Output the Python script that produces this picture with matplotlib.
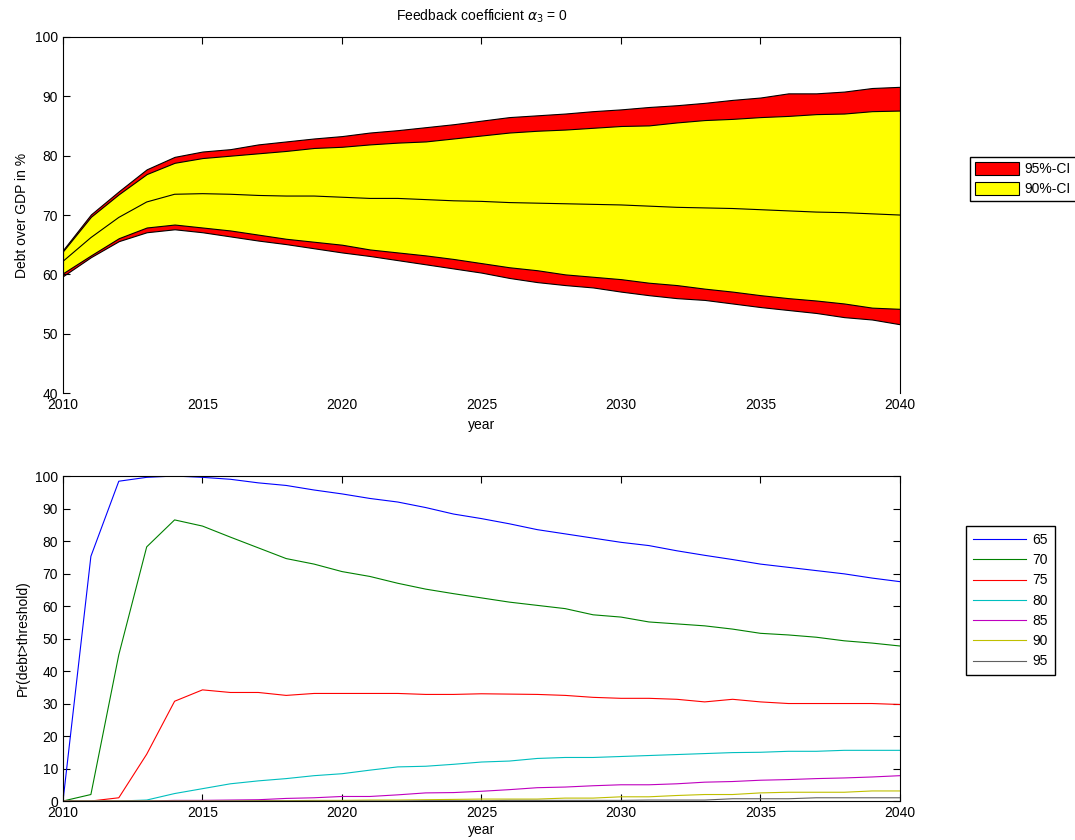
import numpy as np
import matplotlib.pyplot as plt
from matplotlib.patches import Patch

plt.rcParams["font.family"] = ["Liberation Sans", "DejaVu Sans"]
plt.rcParams["font.size"] = 10

years = np.arange(2010, 2041)

# Fan chart bands (debt over GDP in %)
upper95 = [64.1, 70.1, 74.0, 77.7, 79.8, 80.7, 81.1, 81.9, 82.4, 82.9,
           83.3, 83.9, 84.3, 84.8, 85.3, 85.9, 86.5, 86.8, 87.1, 87.5,
           87.8, 88.2, 88.5, 88.9, 89.4, 89.8, 90.5, 90.5, 90.8, 91.4, 91.6]
upper90 = [63.9, 69.7, 73.5, 76.9, 78.8, 79.6, 80.0, 80.4, 80.8, 81.3,
           81.5, 81.9, 82.2, 82.4, 82.9, 83.4, 83.9, 84.2, 84.4, 84.7,
           85.0, 85.1, 85.6, 86.0, 86.2, 86.5, 86.7, 87.0, 87.1, 87.5, 87.6]
median = [62.2, 66.2, 69.6, 72.2, 73.5, 73.6, 73.5, 73.3, 73.2, 73.2,
          73.0, 72.8, 72.8, 72.6, 72.4, 72.3, 72.1, 72.0, 71.9, 71.8,
          71.7, 71.5, 71.3, 71.2, 71.1, 70.9, 70.7, 70.5, 70.4, 70.2, 70.0]
lower90 = [60.2, 63.2, 66.1, 67.9, 68.4, 67.9, 67.4, 66.7, 66.0, 65.5,
           65.0, 64.2, 63.7, 63.2, 62.6, 61.9, 61.2, 60.7, 60.0, 59.6,
           59.2, 58.6, 58.2, 57.6, 57.1, 56.5, 56.0, 55.6, 55.1, 54.4, 54.2]
lower95 = [59.7, 62.9, 65.6, 67.1, 67.6, 67.1, 66.4, 65.7, 65.1, 64.4,
           63.7, 63.1, 62.4, 61.7, 61.0, 60.3, 59.4, 58.7, 58.2, 57.8,
           57.1, 56.5, 56.0, 55.7, 55.1, 54.5, 54.0, 53.5, 52.8, 52.4, 51.6]

# Probability that debt exceeds a threshold (in %)
thresholds = ["65", "70", "75", "80", "85", "90", "95"]
prob65 = [0.0, 75.3, 98.4, 99.6, 100.0, 99.6, 99.0, 97.9, 97.1, 95.7,
          94.5, 93.1, 92.0, 90.3, 88.3, 86.9, 85.3, 83.5, 82.2, 80.9,
          79.6, 78.6, 77.0, 75.6, 74.3, 72.9, 71.9, 70.9, 69.9, 68.6, 67.5]
prob70 = [0.0, 2.0, 45.0, 78.2, 86.5, 84.6, 81.2, 77.9, 74.6, 72.9,
          70.6, 69.1, 67.0, 65.2, 63.8, 62.5, 61.2, 60.2, 59.2, 57.3,
          56.6, 55.1, 54.5, 53.9, 52.9, 51.6, 51.1, 50.4, 49.3, 48.6, 47.7]
prob75 = [0.0, 0.0, 1.0, 14.4, 30.7, 34.2, 33.4, 33.4, 32.5, 33.1,
          33.1, 33.1, 33.1, 32.8, 32.8, 33.0, 32.9, 32.8, 32.5, 31.9,
          31.6, 31.6, 31.3, 30.5, 31.3, 30.5, 30.0, 30.0, 30.0, 30.0, 29.7]
prob80 = [0.0, 0.0, 0.0, 0.3, 2.3, 3.8, 5.3, 6.2, 6.9, 7.8,
          8.4, 9.5, 10.5, 10.7, 11.3, 12.0, 12.3, 13.1, 13.4, 13.4,
          13.7, 14.0, 14.3, 14.6, 14.9, 15.0, 15.3, 15.3, 15.6, 15.6, 15.6]
prob85 = [0.0, 0.0, 0.0, 0.0, 0.2, 0.2, 0.3, 0.4, 0.8, 1.0,
          1.4, 1.4, 1.9, 2.5, 2.6, 3.0, 3.5, 4.1, 4.3, 4.7,
          5.0, 5.0, 5.3, 5.8, 6.0, 6.4, 6.6, 6.9, 7.1, 7.4, 7.8]
prob90 = [0.0, 0.0, 0.0, 0.0, 0.0, 0.0, 0.0, 0.1, 0.1, 0.2,
          0.2, 0.3, 0.3, 0.4, 0.5, 0.6, 0.6, 0.6, 0.9, 0.9,
          1.3, 1.3, 1.7, 2.0, 2.0, 2.5, 2.7, 2.7, 2.7, 3.1, 3.1]
prob95 = [0.0, 0.0, 0.0, 0.0, 0.0, 0.0, 0.0, 0.0, 0.0, 0.0,
          0.0, 0.0, 0.0, 0.1, 0.1, 0.1, 0.2, 0.2, 0.2, 0.2,
          0.2, 0.3, 0.3, 0.3, 0.7, 0.7, 0.7, 1.0, 1.0, 1.0, 1.0]

probs = [prob65, prob70, prob75, prob80, prob85, prob90, prob95]
line_colors = ["#0000ff", "#008000", "#ff0000", "#00bfbf",
               "#bf00bf", "#bfbf00", "#606060"]

fig = plt.figure(figsize=(10.75, 8.4), dpi=100)

# Haut : fan chart
ax1 = fig.add_axes([0.0586, 0.532, 0.7786, 0.424])
ax1.fill_between(years, lower95, upper95, facecolor="#ff0000",
                 edgecolor="k", linewidth=0.8)
ax1.fill_between(years, lower90, upper90, facecolor="#ffff00",
                 edgecolor="k", linewidth=0.8)
ax1.plot(years, median, color="k", linewidth=0.8)

ax1.set_xlim(2010, 2040)
ax1.set_ylim(40, 100)
ax1.set_xticks(np.arange(2010, 2041, 5))
ax1.set_yticks(np.arange(40, 101, 10))
ax1.spines["bottom"].set_visible(False)
ax1.tick_params(direction="in", length=5, top=True, bottom=False,
                right=False, labelsize=10)
ax1.set_xlabel("year")
ax1.set_ylabel("Debt over GDP in %")
ax1.set_title(r"Feedback coefficient $\alpha_3$ = 0", fontsize=10, pad=12)

ax1.legend(
    handles=[Patch(facecolor="#ff0000", edgecolor="k", linewidth=0.8, label="95%-CI"),
             Patch(facecolor="#ffff00", edgecolor="k", linewidth=0.8, label="90%-CI")],
    loc="upper left",
    bbox_to_anchor=(0.902, 0.813),
    bbox_transform=fig.transFigure,
    fancybox=False,
    edgecolor="k",
    framealpha=1,
    handlelength=3.2,
    handleheight=1.1,
    labelspacing=0.4,
    borderpad=0.35,
    handletextpad=0.4,
    borderaxespad=0
)

# Bas : probabilités
ax2 = fig.add_axes([0.0586, 0.0464, 0.7786, 0.3869])
for values, label, color in zip(probs, thresholds, line_colors):
    ax2.plot(years, values, color=color, linewidth=0.8, label=label)

ax2.set_xlim(2010, 2040)
ax2.set_ylim(0, 100)
ax2.set_xticks(np.arange(2010, 2041, 5))
ax2.set_yticks(np.arange(0, 101, 10))
ax2.tick_params(direction="in", length=5, top=True, right=True, labelsize=10)
ax2.set_xlabel("year", labelpad=2)
ax2.set_ylabel("Pr(debt>threshold)")

ax2.legend(
    loc="upper left",
    bbox_to_anchor=(0.8986, 0.3738),
    bbox_transform=fig.transFigure,
    fancybox=False,
    edgecolor="k",
    framealpha=1,
    handlelength=3.8,
    labelspacing=0.45,
    borderpad=0.5,
    handletextpad=0.5,
    borderaxespad=0
)

plt.savefig("out.png", dpi=100)
plt.close()
